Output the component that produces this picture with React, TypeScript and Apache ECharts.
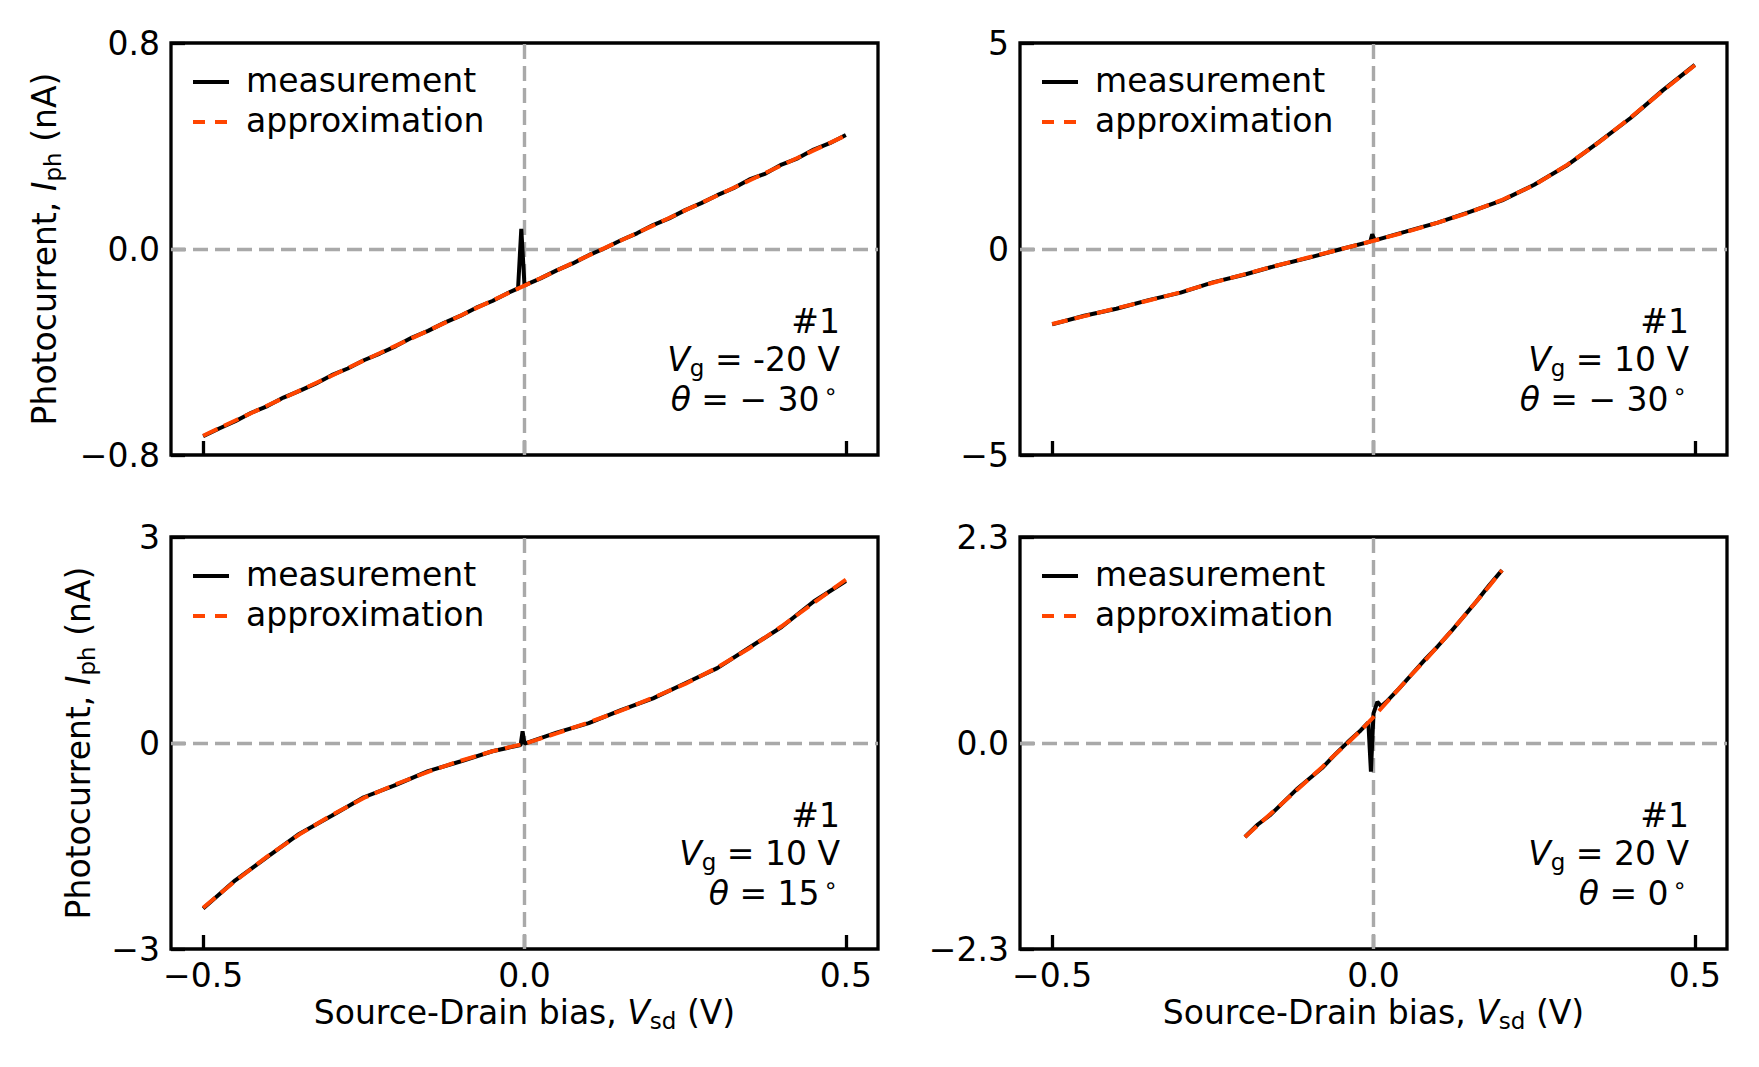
import React, { useEffect, useRef } from "react";
import * as echarts from "echarts";

const W = 1759;
const H = 1067;
const FONT = "DejaVu Sans";
const ORANGE = "#FF4500";
const GRAY = "#a9a9a9";

// shared x grid for fitted curves (V)
const x05 = [-0.5, -0.45, -0.4, -0.35, -0.3, -0.25, -0.2, -0.15, -0.1, -0.05, 0, 0.05, 0.1, 0.15, 0.2, 0.25, 0.3, 0.35, 0.4, 0.45, 0.5];
const xTicks = [-0.5, 0, 0.5];

// Panel 1 (Vg = -20 V, theta = -30)
const tlApprox = [-0.725, -0.666, -0.608, -0.55, -0.492, -0.433, -0.375, -0.317, -0.259, -0.2, -0.142, -0.084, -0.025, 0.033, 0.091, 0.15, 0.208, 0.266, 0.325, 0.383, 0.441];
const tlMeasX = [-0.5, -0.475, -0.45, -0.425, -0.4, -0.375, -0.35, -0.325, -0.3, -0.275, -0.25, -0.225, -0.2, -0.175, -0.15, -0.125, -0.1, -0.075, -0.05, -0.025, -0.01, -0.005, 0, 0.025, 0.05, 0.075, 0.1, 0.125, 0.15, 0.175, 0.2, 0.225, 0.25, 0.275, 0.3, 0.325, 0.35, 0.375, 0.4, 0.425, 0.45, 0.475, 0.5];
const tlMeasY = [-0.727, -0.697, -0.669, -0.636, -0.61, -0.577, -0.551, -0.523, -0.49, -0.464, -0.432, -0.406, -0.377, -0.344, -0.318, -0.287, -0.26, -0.228, -0.202, -0.17, -0.153, 0.078, -0.141, -0.114, -0.083, -0.056, -0.024, 0.003, 0.034, 0.061, 0.093, 0.119, 0.151, 0.178, 0.209, 0.236, 0.27, 0.293, 0.328, 0.352, 0.386, 0.411, 0.443];

// Panel 2 (Vg = 10 V, theta = -30)
const trApprox = [-1.82, -1.63, -1.44, -1.25, -1.05, -0.82, -0.61, -0.4, -0.2, 0.0, 0.2, 0.41, 0.64, 0.89, 1.19, 1.55, 2.03, 2.58, 3.19, 3.84, 4.46];
const trMeasX = [-0.5, -0.45, -0.4, -0.35, -0.3, -0.25, -0.2, -0.15, -0.1, -0.05, -0.005, -0.002, 0.002, 0.05, 0.1, 0.15, 0.2, 0.25, 0.3, 0.35, 0.4, 0.45, 0.5];
const trMeasY = [-1.83, -1.62, -1.45, -1.24, -1.06, -0.81, -0.62, -0.4, -0.21, 0.0, 0.18, 0.36, 0.21, 0.42, 0.64, 0.9, 1.18, 1.56, 2.02, 2.59, 3.18, 3.85, 4.47];

// Panel 3 (Vg = 10 V, theta = 15)
const blApprox = [-2.4, -2.01, -1.65, -1.33, -1.05, -0.8, -0.6, -0.42, -0.26, -0.12, -0.01, 0.14, 0.3, 0.47, 0.66, 0.86, 1.1, 1.38, 1.7, 2.04, 2.38];
const blMeasX = [-0.5, -0.45, -0.4, -0.35, -0.3, -0.25, -0.2, -0.15, -0.1, -0.05, -0.006, -0.003, 0, 0.05, 0.1, 0.15, 0.2, 0.25, 0.3, 0.35, 0.4, 0.45, 0.5];
const blMeasY = [-2.41, -2.0, -1.66, -1.32, -1.06, -0.79, -0.61, -0.41, -0.27, -0.12, -0.03, 0.17, -0.01, 0.15, 0.29, 0.48, 0.65, 0.87, 1.09, 1.39, 1.69, 2.06, 2.36];

// Panel 4 (Vg = 20 V, theta = 0)
const brX = [-0.2, -0.18, -0.16, -0.14, -0.12, -0.1, -0.08, -0.06, -0.04, -0.02, 0, 0.02, 0.04, 0.06, 0.08, 0.1, 0.12, 0.14, 0.16, 0.18, 0.2];
const brApprox = [-1.05, -0.92, -0.79, -0.66, -0.53, -0.4, -0.27, -0.13, 0.0, 0.14, 0.29, 0.45, 0.61, 0.77, 0.92, 1.08, 1.24, 1.41, 1.58, 1.75, 1.93];
const brMeasX = [-0.2, -0.18, -0.16, -0.14, -0.12, -0.1, -0.08, -0.06, -0.04, -0.02, -0.008, -0.004, 0, 0.006, 0.012, 0.02, 0.04, 0.06, 0.08, 0.1, 0.12, 0.14, 0.16, 0.18, 0.2];
const brMeasY = [-1.05, -0.91, -0.8, -0.66, -0.52, -0.4, -0.28, -0.13, 0.01, 0.14, 0.23, -0.32, 0.33, 0.46, 0.41, 0.46, 0.61, 0.77, 0.93, 1.08, 1.24, 1.41, 1.58, 1.76, 1.93];

const yMins = [-0.8, -5, -3, -2.3];
const yMaxs = [0.8, 5, 3, 2.3];
const yIntervals = [0.8, 5, 3, 2.3];
const yDecimals = [1, 0, 0, 1];
const vgLabels = ["-20", "10", "10", "20"];
const thetaLabels = ["\u2212 30", "\u2212 30", "15", "0"];

const GRIDS = [
  { left: 171, top: 43, width: 707, height: 412 },
  { left: 1020, top: 43, width: 707, height: 412 },
  { left: 171, top: 537, width: 707, height: 412 },
  { left: 1020, top: 537, width: 707, height: 412 },
];
// horizontal centre of the rotated y-axis titles (depends on tick label width, as in the source)
const yNameX = [44, 0, 78, 0];

const pair = (xs: number[], ys: number[]) => xs.map((x, i) => [x, ys[i]]);
const fmt = (d: number) => (v: number) => (v < 0 ? "\u2212" : "") + Math.abs(v).toFixed(d);

const panels = [
  { ax: x05, ay: tlApprox, mx: tlMeasX, my: tlMeasY },
  { ax: x05, ay: trApprox, mx: trMeasX, my: trMeasY },
  { ax: x05, ay: blApprox, mx: blMeasX, my: blMeasY },
  { ax: brX, ay: brApprox, mx: brMeasX, my: brMeasY },
];

const rich = {
  n: { fontSize: 33, fontFamily: FONT, lineHeight: 40, fill: "#000" },
  i: { fontSize: 33, fontFamily: FONT, fontStyle: "italic", lineHeight: 40, fill: "#000" },
  s: { fontSize: 23, fontFamily: FONT, lineHeight: 23, verticalAlign: "bottom", fill: "#000" },
  sup: { fontSize: 23, fontFamily: FONT, lineHeight: 23, verticalAlign: "top", padding: [0, 0, 0, 4], fill: "#000" },
};

function buildOption() {
  const graphic: any[] = [];
  GRIDS.forEach((g, k) => {
    const right = g.left + g.width;
    const bottom = g.top + g.height;
    // legend
    graphic.push({ type: "line", silent: true, shape: { x1: g.left + 22, y1: g.top + 39, x2: g.left + 58, y2: g.top + 39 }, style: { stroke: "#000", lineWidth: 4 } });
    graphic.push({ type: "text", silent: true, x: g.left + 75, y: g.top + 37, style: { text: "measurement", fontSize: 33, fontFamily: FONT, fill: "#000", align: "left", verticalAlign: "middle" } });
    graphic.push({ type: "line", silent: true, shape: { x1: g.left + 22, y1: g.top + 79, x2: g.left + 58, y2: g.top + 79 }, style: { stroke: ORANGE, lineWidth: 4, lineDash: [12, 10] } });
    graphic.push({ type: "text", silent: true, x: g.left + 75, y: g.top + 77, style: { text: "approximation", fontSize: 33, fontFamily: FONT, fill: "#000", align: "left", verticalAlign: "middle" } });
    // annotation
    graphic.push({ type: "text", silent: true, x: right - 38, y: bottom - 134, style: { text: "#1", fontSize: 33, fontFamily: FONT, fill: "#000", align: "right", verticalAlign: "middle" } });
    graphic.push({ type: "text", silent: true, x: right - 38, y: bottom - 96, style: { text: `{i|V}{s|g}{n| = ${vgLabels[k]} V}`, rich, align: "right", verticalAlign: "middle" } });
    graphic.push({ type: "text", silent: true, x: right - 40, y: bottom - 56, style: { text: `{i|\u03b8}{n| = ${thetaLabels[k]}}{sup|\u2218}`, rich, align: "right", verticalAlign: "middle" } });
    // axis names
    if (k === 0 || k === 2) {
      graphic.push({ type: "text", silent: true, x: yNameX[k], y: g.top + g.height / 2, rotation: Math.PI / 2, style: { text: "{n|Photocurrent, }{i|I}{s|ph}{n| (nA)}", rich, align: "center", verticalAlign: "middle" } });
    }
    if (k === 2 || k === 3) {
      graphic.push({ type: "text", silent: true, x: g.left + g.width / 2, y: bottom + 63, style: { text: "{n|Source-Drain bias, }{i|V}{s|sd}{n| (V)}", rich, align: "center", verticalAlign: "middle" } });
    }
  });

  const series: any[] = [];
  panels.forEach((p, k) => {
    series.push({
      type: "line", xAxisIndex: k, yAxisIndex: k, data: [], silent: true, z: 1,
      markLine: {
        silent: true, z: 1, symbol: ["none", "none"], label: { show: false },
        lineStyle: { color: GRAY, width: 3.4, type: [15, 7] },
        emphasis: { disabled: true },
        data: [{ xAxis: 0 }, { yAxis: 0 }],
      },
    });
    series.push({
      type: "line", xAxisIndex: k, yAxisIndex: k, data: pair(p.mx, p.my), showSymbol: false, symbol: "none", z: 2,
      lineStyle: { color: "#000", width: 4 }, silent: true,
    });
    series.push({
      type: "line", xAxisIndex: k, yAxisIndex: k, data: pair(p.ax, p.ay), showSymbol: false, symbol: "none", z: 3,
      lineStyle: { color: ORANGE, width: 4, type: [16, 7] }, silent: true,
    });
  });

  return {
    animation: false,
    textStyle: { fontFamily: FONT },
    grid: GRIDS.map((g) => ({ ...g, show: true, borderColor: "#000", borderWidth: 3.3, backgroundColor: "transparent", containLabel: false })),
    xAxis: GRIDS.map((_, k) => ({
      type: "value", gridIndex: k, min: -0.55, max: 0.55, position: "bottom",
      axisLine: { show: false, onZero: false },
      splitLine: { show: false },
      axisTick: { show: true, inside: true, length: 14, lineStyle: { color: "#000", width: 3.3 }, customValues: xTicks },
      axisLabel: { show: k >= 2, customValues: xTicks, formatter: fmt(1), fontSize: 33, fontFamily: FONT, color: "#000", margin: 10 },
    })),
    yAxis: GRIDS.map((_, k) => ({
      type: "value", gridIndex: k, min: yMins[k], max: yMaxs[k], interval: yIntervals[k], position: "left",
      axisLine: { show: false, onZero: false },
      splitLine: { show: false },
      axisTick: { show: true, inside: true, length: 14, lineStyle: { color: "#000", width: 3.3 } },
      axisLabel: { show: true, formatter: fmt(yDecimals[k]), fontSize: 33, fontFamily: FONT, color: "#000", margin: 11, showMinLabel: true, showMaxLabel: true },
    })),
    series,
    graphic,
  };
}

export default function App() {
  const ref = useRef<HTMLDivElement>(null);
  useEffect(() => {
    document.body.style.margin = "0";
    if (!ref.current) return;
    const chart = echarts.init(ref.current, undefined, { renderer: "svg", width: W, height: H });
    chart.setOption(buildOption() as any);
    return () => chart.dispose();
  }, []);
  return <div ref={ref} style={{ position: "absolute", left: 0, top: 0, width: W, height: H, background: "#fff" }} />;
}
